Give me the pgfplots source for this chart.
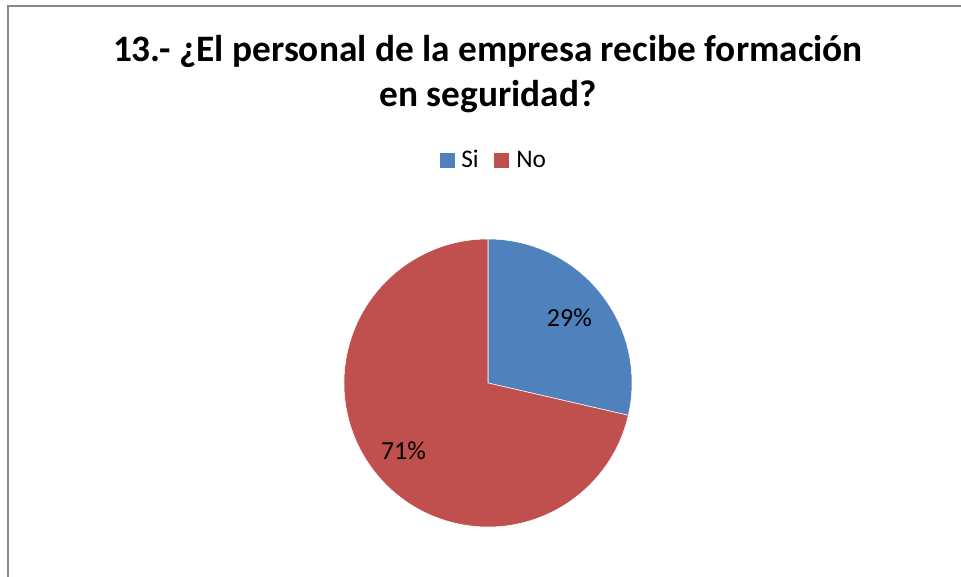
\documentclass[border=0pt]{standalone}
\usepackage{pgfplots}
\usepackage{pgfplotstable}
\usepackage{fontspec}
\setmainfont{Carlito}
\pgfplotsset{compat=1.18}
\usetikzlibrary{calc}
\definecolor{siblue}{HTML}{4F81BD}
\definecolor{nored}{HTML}{C0504D}
\definecolor{framegray}{HTML}{878787}

% share of answers, in percent
\pgfplotstableread{
label value
Si 28.6
No 71.4
}\piedata

\begin{document}
\begin{tikzpicture}
\pgfplotstablegetelem{0}{value}\of\piedata \let\vsi\pgfplotsretval
\pgfplotstablegetelem{1}{value}\of\piedata \let\vno\pgfplotsretval
\pgfmathsetmacro{\endsi}{90-3.6*\vsi}
\pgfmathsetmacro{\endno}{\endsi-3.6*\vno}
\pgfmathsetmacro{\midsi}{(90+\endsi)/2}
\pgfmathsetmacro{\midno}{(\endsi+\endno)/2}
\pgfmathtruncatemacro{\psi}{round(\vsi)}
\pgfmathtruncatemacro{\pno}{round(\vno)}
\begin{axis}[
    x=0.75pt, y=0.75pt,
    xmin=0, xmax=961, ymin=0, ymax=577,
    axis lines=none, ticks=none, clip=false,
]
\coordinate (ll) at (axis cs:0,0);
\coordinate (ur) at (axis cs:961,577);
% frame
\draw[framegray, line width=1.5pt] (axis cs:8,0) -- (axis cs:8,571) -- (axis cs:961,571);
% title
\node[anchor=base, font=\bfseries\fontsize{28}{34}\selectfont] at (axis cs:488,515)
  {13.- ¿El personal de la empresa recibe formación};
\node[anchor=base, font=\bfseries\fontsize{28}{34}\selectfont] at (axis cs:488,470)
  {en seguridad?};
% legend
\fill[siblue] (axis cs:440,409) rectangle (axis cs:455,424);
\node[anchor=base west, inner sep=0pt, font=\fontsize{19}{22}\selectfont] at (axis cs:461,409) {Si};
\fill[nored] (axis cs:494,409) rectangle (axis cs:509,424);
\node[anchor=base west, inner sep=0pt, font=\fontsize{19}{22}\selectfont] at (axis cs:516,409) {No};
% pie
\filldraw[fill=siblue, draw=white, line width=0.4pt] (axis cs:488,194) -- ++(90:108pt)
  arc[start angle=90, end angle=\endsi, radius=108pt] -- cycle;
\filldraw[fill=nored, draw=white, line width=0.4pt] (axis cs:488,194) -- ++(\endsi:108pt)
  arc[start angle=\endsi, end angle=\endno, radius=108pt] -- cycle;
\node[font=\fontsize{19.5}{22}\selectfont] at ($(axis cs:488,194)+(\midsi:78pt)$) {\psi\%};
\node[font=\fontsize{19.5}{22}\selectfont] at ($(axis cs:488,194)+(\midno:81pt)$) {\pno\%};
\end{axis}
\pgfresetboundingbox
\path[use as bounding box] (ll) rectangle (ur);
\end{tikzpicture}
\end{document}
